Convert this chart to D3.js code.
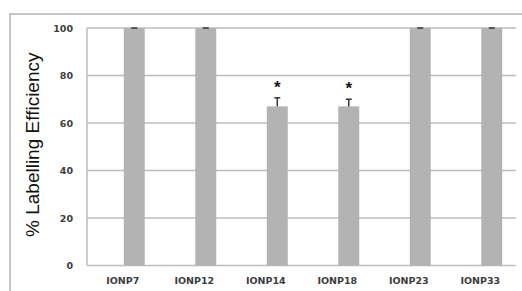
<!DOCTYPE html>
<html>
<head>
<meta charset="utf-8">
<script src="https://cdn.jsdelivr.net/npm/d3@7"></script>
<style>
  html, body { margin: 0; padding: 0; background: #fff; }
  svg { display: block; }
</style>
</head>
<body>
<div id="chart"></div>
<script>
// ---- data ----
const samples = ["IONP7", "IONP12", "IONP14", "IONP18", "IONP23", "IONP33"];
const efficiency = [100, 100, 67, 67, 100, 100];
const errors = [0, 0, 3.6, 3, 0, 0];
const significant = [false, false, true, true, false, false];
const yTicks = [0, 20, 40, 60, 80, 100];

const W = 522, H = 291;
const margin = { top: 28, right: 6, bottom: 25.5, left: 87 };

const svg = d3.select("#chart").append("svg")
  .attr("width", W).attr("height", H);

// outer frame (only top/left visible in crop)
svg.append("path")
  .attr("d", `M10,${H} V14 H${W}`)
  .attr("fill", "none").attr("stroke", "#c6c6c6").attr("stroke-width", 2);

const x0 = d3.scaleBand()
  .domain(samples)
  .range([margin.left, W - margin.right]);

const bw = x0.bandwidth();
const x1 = d3.scaleBand()
  .domain(["ref", "value"])
  .range([bw / 2 - 22, bw / 2 + 22])
  .paddingInner(0.09);

const y = d3.scaleLinear()
  .domain([0, 100])
  .range([H - margin.bottom, margin.top]);

// gridlines
svg.append("g")
  .selectAll("line")
  .data(yTicks)
  .join("line")
  .attr("x1", margin.left).attr("x2", W - margin.right)
  .attr("y1", d => y(d)).attr("y2", d => y(d))
  .attr("stroke", "#bdbdbd").attr("stroke-width", 1.5);

// left axis line
svg.append("line")
  .attr("x1", margin.left).attr("x2", margin.left)
  .attr("y1", y(100)).attr("y2", y(0))
  .attr("stroke", "#bdbdbd").attr("stroke-width", 1.5);

// y tick labels
const yAxis = svg.append("g")
  .attr("transform", `translate(${margin.left},0)`)
  .call(d3.axisLeft(y).tickValues(yTicks).tickSize(0).tickPadding(14));
yAxis.select(".domain").remove();
yAxis.selectAll("text")
  .attr("font-family", "DejaVu Sans").attr("font-weight", "bold")
  .attr("font-size", "9.5px").attr("fill", "#3d3d3d");

// x tick labels
const xAxis = svg.append("g")
  .attr("transform", `translate(0,${y(0)})`)
  .call(d3.axisBottom(x0).tickSize(0).tickPadding(12));
xAxis.select(".domain").remove();
xAxis.selectAll("text")
  .attr("font-family", "DejaVu Sans").attr("font-weight", "bold")
  .attr("font-size", "9.5px").attr("fill", "#3d3d3d");

// bars
const rows = samples.map((s, i) => ({ s, v: efficiency[i], e: errors[i], sig: significant[i] }));

const g = svg.append("g");
g.selectAll("rect")
  .data(rows)
  .join("rect")
  .attr("x", d => x0(d.s) + x1("value"))
  .attr("width", x1.bandwidth())
  .attr("y", d => y(d.v))
  .attr("height", d => y(0) - y(d.v))
  .attr("fill", "#b3b3b3");

// error bars
rows.forEach(d => {
  const cx = x0(d.s) + x1("value") + x1.bandwidth() / 2;
  if (d.e > 0) {
    g.append("line")
      .attr("x1", cx).attr("x2", cx)
      .attr("y1", y(d.v)).attr("y2", y(d.v + d.e))
      .attr("stroke", "#333").attr("stroke-width", 1.5);
  }
  g.append("line")
    .attr("x1", cx - 3).attr("x2", cx + 3)
    .attr("y1", y(d.v + d.e)).attr("y2", y(d.v + d.e))
    .attr("stroke", "#333").attr("stroke-width", 1.5);
  if (d.sig) {
    g.append("text")
      .attr("x", cx).attr("y", y(d.v + d.e) - 5)
      .attr("text-anchor", "middle")
      .attr("font-family", "Liberation Sans").attr("font-weight", "bold")
      .attr("font-size", "17px").attr("fill", "#111")
      .text("*");
  }
});

// y axis title
svg.append("text")
  .attr("transform", `translate(39,${(y(0) + y(100)) / 2 - 2}) rotate(-90)`)
  .attr("text-anchor", "middle")
  .attr("font-family", "Liberation Sans")
  .attr("font-size", "19px").attr("fill", "#111")
  .text("% Labelling Efficiency");
</script>
</body>
</html>
